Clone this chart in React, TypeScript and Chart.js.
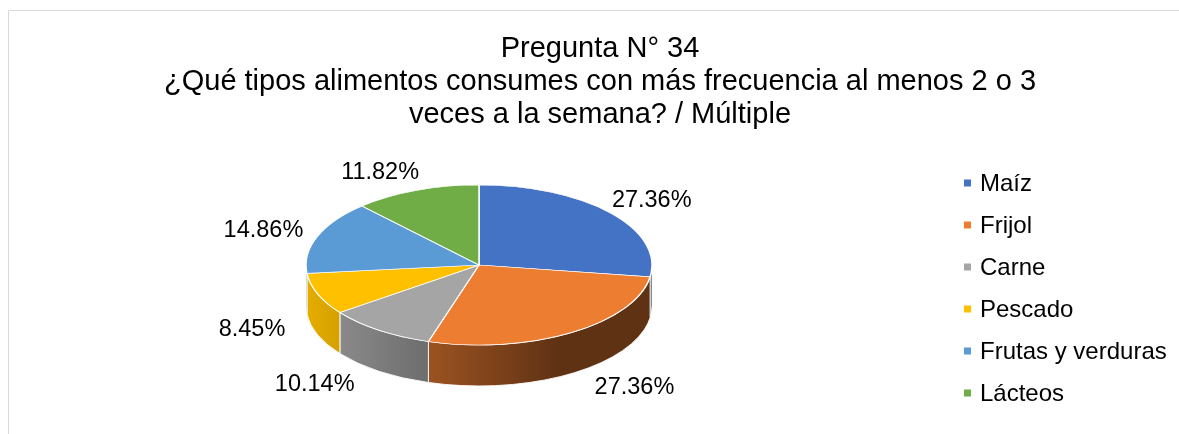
import React, { useEffect, useRef } from "react";
import { Chart, registerables } from "chart.js";

Chart.register(...registerables);

// ---------- data ----------
const categories = ["Maíz", "Frijol", "Carne", "Pescado", "Frutas y verduras", "Lácteos"];
const percentages = [27.36, 27.36, 10.14, 8.45, 14.86, 11.82];
const sliceColors = ["#4472C4", "#ED7D31", "#A5A5A5", "#FFC000", "#5B9BD5", "#70AD47"];
const titleLines = [
  "Pregunta N° 34",
  "¿Qué tipos alimentos consumes con más frecuencia al menos 2 o 3",
  "veces a la semana? / Múltiple",
];

// ---------- layout ----------
const W = 1200;
const H = 440;
const CX = 471;
const CY = 255;
const R = 173;
const TILT = 80 / 173;
const DEPTH = 41;
const FONT = "'Liberation Sans', Arial, sans-serif";

function shade(hex: string, f: number): string {
  const n = parseInt(hex.slice(1), 16);
  const r = Math.round(((n >> 16) & 255) * f);
  const g = Math.round(((n >> 8) & 255) * f);
  const b = Math.round((n & 255) * f);
  return `rgb(${r},${g},${b})`;
}

const pie3d = {
  id: "pie3d",
  beforeDatasetsDraw(chart: any) {
    const ctx: CanvasRenderingContext2D = chart.ctx;
    const arcs = chart.getDatasetMeta(0).data as any[];
    if (!arcs.length) return;
    const cx = arcs[0].x;
    const cy = arcs[0].y;
    const rx = arcs[0].outerRadius;
    const ry = rx * TILT;
    ctx.save();
    arcs.forEach((arc, i) => {
      const { startAngle, endAngle } = arc.getProps(["startAngle", "endAngle"], true);
      for (let k = -1; k <= 1; k++) {
        const s = Math.max(startAngle + 2 * Math.PI * k, 0);
        const e = Math.min(endAngle + 2 * Math.PI * k, Math.PI);
        if (e <= s) continue;
        const grad = ctx.createLinearGradient(cx - rx, 0, cx + 80, 0);
        grad.addColorStop(0, shade(sliceColors[i], 0.9));
        grad.addColorStop(1, shade(sliceColors[i], 0.4));
        ctx.beginPath();
        ctx.ellipse(cx, cy, rx, ry, 0, s, e, false);
        ctx.lineTo(cx + rx * Math.cos(e), cy + DEPTH + ry * Math.sin(e));
        ctx.ellipse(cx, cy + DEPTH, rx, ry, 0, e, s, true);
        ctx.closePath();
        ctx.fillStyle = grad;
        ctx.fill();
        ctx.strokeStyle = "rgba(255,255,255,0.9)";
        ctx.lineWidth = 1;
        ctx.stroke();
      }
    });
    ctx.restore();
    ctx.save();
    ctx.translate(cx, cy);
    ctx.scale(1, TILT);
    ctx.translate(-cx, -cy);
  },
  afterDatasetsDraw(chart: any) {
    const ctx: CanvasRenderingContext2D = chart.ctx;
    const arcs = chart.getDatasetMeta(0).data as any[];
    if (!arcs.length) return;
    ctx.restore();
    const cx = arcs[0].x;
    const cy = arcs[0].y;
    const rx = arcs[0].outerRadius;
    const ry = rx * TILT;
    ctx.save();
    ctx.font = `23.5px ${FONT}`;
    ctx.fillStyle = "#000000";
    ctx.textAlign = "center";
    ctx.textBaseline = "middle";
    arcs.forEach((arc, i) => {
      const { startAngle, endAngle } = arc.getProps(["startAngle", "endAngle"], true);
      const t = (startAngle + endAngle) / 2;
      const c = Math.cos(t);
      const s = Math.sin(t);
      const x = cx + (rx + 55) * c + Math.sign(c) * 40 * Math.max(0, s) - 55 * s * s * Math.max(0, -s) * Math.max(0, -c);
      const y = cy + (ry + 16) * s + DEPTH * Math.min(1, 2 * Math.max(0, s)) - 3 * Math.max(0, -s);
      ctx.fillText(percentages[i].toFixed(2) + "%", x, y);
    });
    ctx.restore();
  },
  afterDraw(chart: any) {
    const ctx: CanvasRenderingContext2D = chart.ctx;
    ctx.save();
    // border
    ctx.strokeStyle = "#d9d9d9";
    ctx.lineWidth = 1;
    ctx.beginPath();
    ctx.moveTo(0.5, H);
    ctx.lineTo(0.5, 0.5);
    ctx.lineTo(W, 0.5);
    ctx.stroke();
    // title
    ctx.fillStyle = "#000000";
    ctx.font = `29px ${FONT}`;
    ctx.textAlign = "center";
    ctx.textBaseline = "alphabetic";
    titleLines.forEach((line, i) => {
      ctx.fillText(line, 592, 47 + i * 33);
    });
    // legend
    ctx.font = `24px ${FONT}`;
    ctx.textAlign = "left";
    ctx.textBaseline = "middle";
    categories.forEach((cat, i) => {
      const y = 173 + i * 42;
      ctx.fillStyle = sliceColors[i];
      ctx.fillRect(956, y - 3.5, 7, 7);
      ctx.fillStyle = "#000000";
      ctx.fillText(cat, 972, y + 1);
    });
    ctx.restore();
  },
};

export default function App() {
  const ref = useRef<HTMLCanvasElement | null>(null);
  useEffect(() => {
    if (!ref.current) return;
    const chart = new Chart(ref.current, {
      type: "pie",
      data: {
        labels: categories,
        datasets: [
          {
            data: percentages,
            backgroundColor: sliceColors,
            borderColor: "#ffffff",
            borderWidth: 1.5,
            clip: false,
          } as any,
        ],
      },
      options: {
        responsive: false,
        animation: false,
        devicePixelRatio: 1,
        events: [],
        radius: R,
        layout: {
          padding: { left: CX - R, top: CY - R, right: W - CX - R, bottom: H - CY - R },
        },
        plugins: {
          legend: { display: false },
          title: { display: false },
          tooltip: { enabled: false },
        },
      } as any,
      plugins: [pie3d],
    });
    return () => chart.destroy();
  }, []);
  return (
    <div style={{ position: "absolute", left: 0, top: 0, width: 1179, height: 434, overflow: "hidden", background: "#fff" }}>
      <canvas ref={ref} width={W} height={H} style={{ position: "absolute", left: 8, top: 10, width: W, height: H }} />
    </div>
  );
}
